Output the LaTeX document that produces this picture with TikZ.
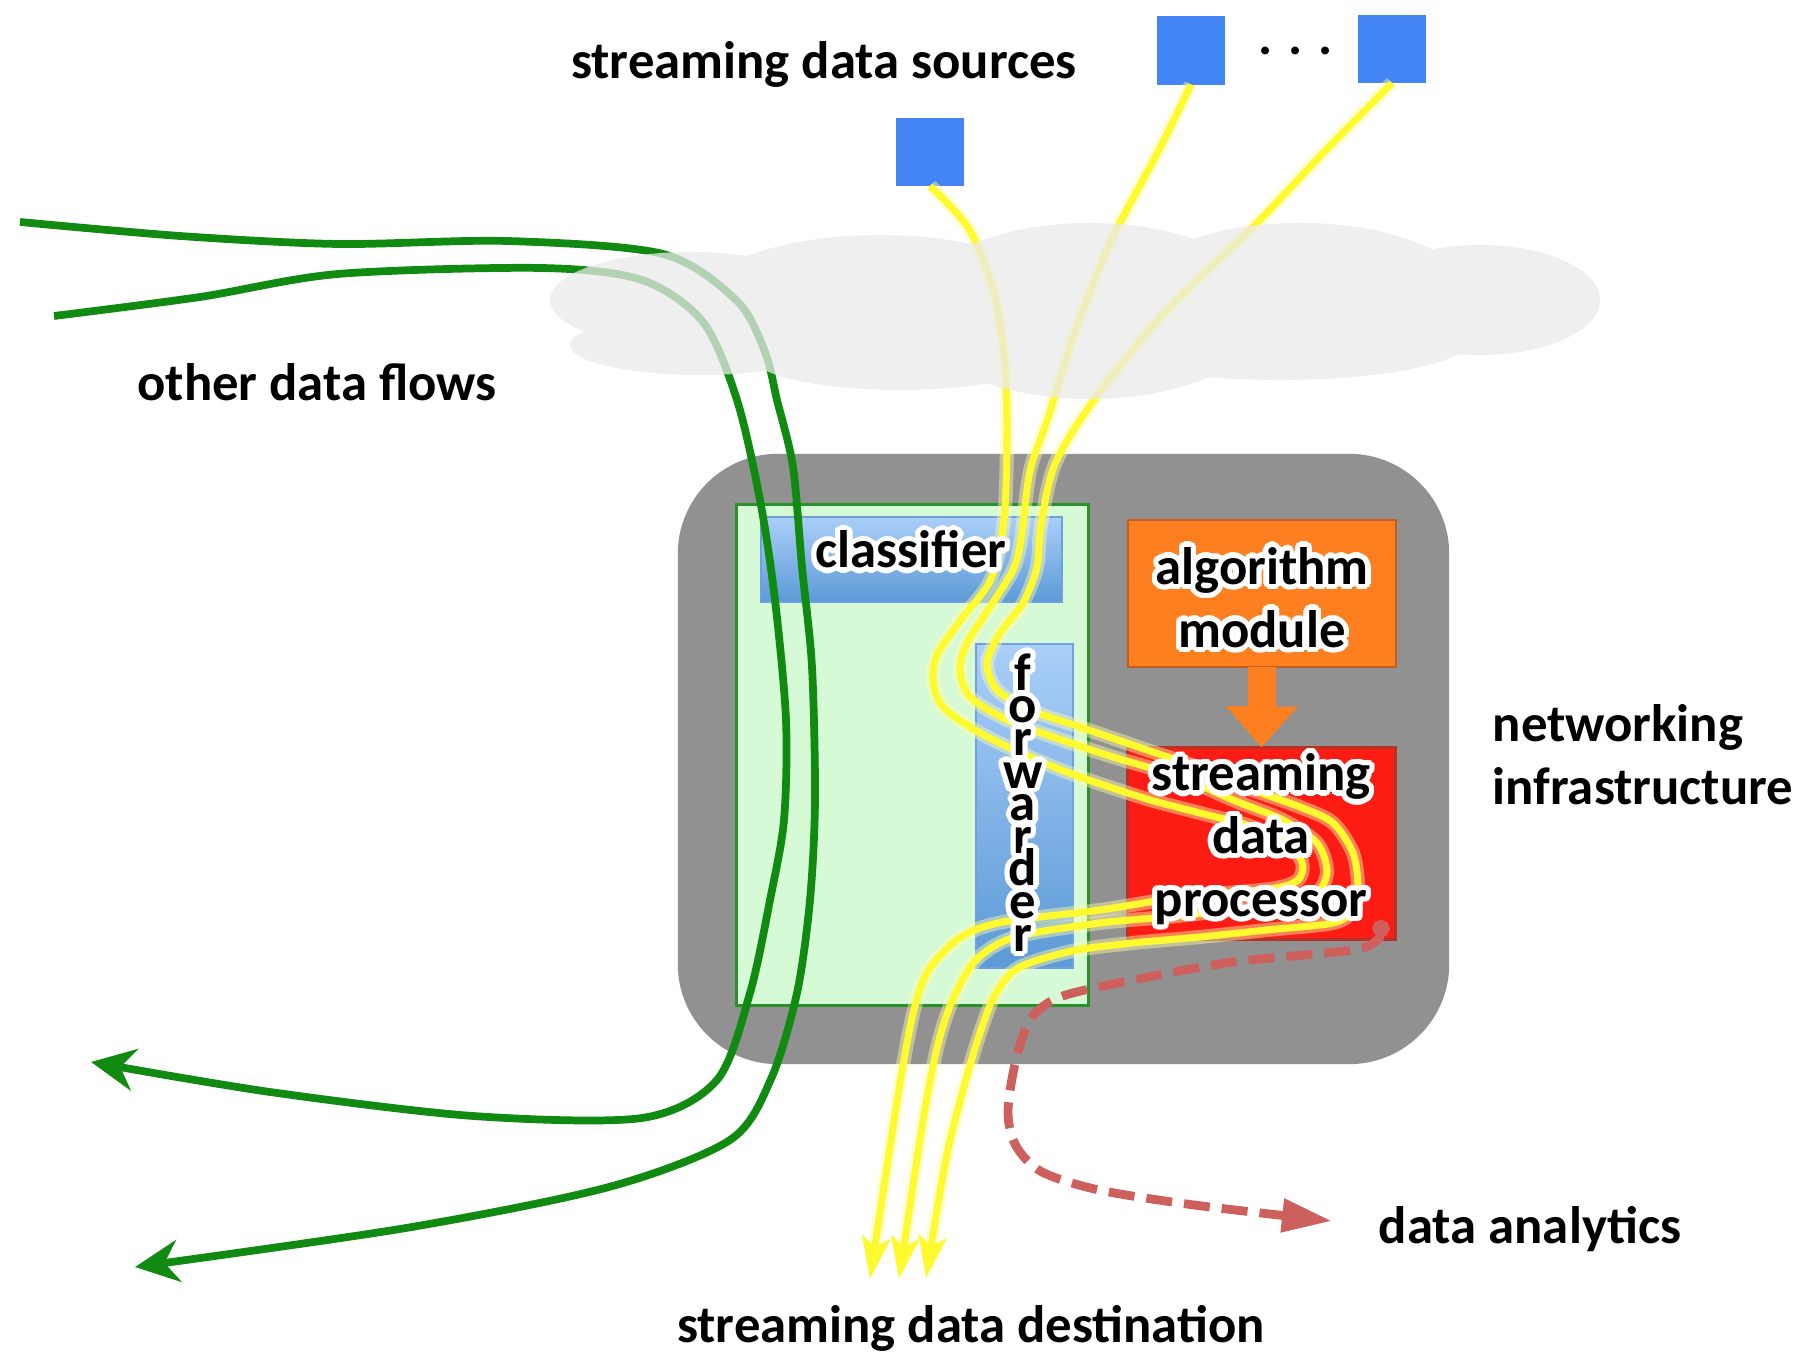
\documentclass[tikz,border=0pt]{standalone}
\usepackage{fontspec}
\setmainfont{Carlito}
\usepackage{contour}
\contourlength{1.5pt}
\usetikzlibrary{arrows.meta}
\definecolor{infragray}{RGB}{145,145,145}
\definecolor{routerfill}{RGB}{214,250,214}
\definecolor{routerline}{RGB}{40,145,40}
\definecolor{barlight}{RGB}{170,207,250}
\definecolor{bardark}{RGB}{92,154,214}
\definecolor{barline}{RGB}{110,160,225}
\definecolor{srcblue}{RGB}{68,133,245}
\definecolor{algoorange}{RGB}{253,127,31}
\definecolor{algoline}{RGB}{195,95,30}
\definecolor{sdpred}{RGB}{253,28,20}
\definecolor{sdpline}{RGB}{180,50,40}
\definecolor{flowgreen}{RGB}{16,138,16}
\definecolor{streamyellow}{RGB}{255,250,45}
\definecolor{analyticsred}{RGB}{205,95,92}
\definecolor{cloudgray}{RGB}{234,234,234}
\newcommand{\glow}[1]{\contour{white}{#1}}

\begin{document}
\begin{tikzpicture}[x=0.01cm, y=-0.01cm,
  lbl/.style={font=\fontsize{15}{17.9}\selectfont\bfseries, inner sep=0pt},
  box/.style={inner sep=0pt, outer sep=0pt},
  bar/.style={box, draw=barline, line width=0.6pt, top color=barlight, bottom color=bardark},
  srcbox/.style={box, fill=srcblue, minimum size=0.68cm},
  modbox/.style={box, line width=0.8pt, minimum width=2.68cm},
  flow/.style={flowgreen, line width=2.2pt, -{Stealth[length=4.4mm, width=4.2mm]}},
  stream/.style={streamyellow, line width=2pt,
                 preaction={draw=streamyellow!40, line width=4pt, opacity=0.45},
                 -{Stealth[length=4.2mm, width=2.8mm, inset=1mm]}},
  analytic/.style={analyticsred, line width=2.5pt, dash pattern=on 0.26cm off 0.12cm,
                   {Circle[length=1.7mm]}-{Triangle[length=5mm, width=3.2mm]}}
]
\useasboundingbox (0,0) rectangle (1811,1368);

% Networking infrastructure
\node[box, fill=infragray, rounded corners=1cm, minimum width=7.71cm, minimum height=6.1cm] (infra) at (1063.5,759) {};
\node[box, fill=routerfill, draw=routerline, line width=0.8pt, minimum width=3.51cm, minimum height=5cm] (router) at (912.5,755) {};
\node[bar, minimum width=3.01cm, minimum height=0.85cm] (classifier) at (911.5,559.5) {};
\node[bar, minimum width=0.97cm, minimum height=3.24cm] (forwarder) at (1024.5,806) {};
\node[modbox, fill=algoorange, draw=algoline, minimum height=1.47cm] (algo) at (1262,593.5) {};
\node[modbox, fill=sdpred, draw=sdpline, minimum height=1.92cm] (sdp) at (1261.5,843.5) {};
\draw[algoorange, line width=0.28cm, -{Triangle[length=0.41cm, width=0.69cm]}] (algo.south) -- (sdp.north);

% Sources
\node[srcbox] (src1) at (930,152) {};
\node[srcbox] (src2) at (1191,50.5) {};
\node[srcbox] (src3) at (1392,49) {};
\node[lbl, anchor=base] (dots) at (1296,55) {. . .};

% Free ends
\coordinate (flowinA) at (20,222);
\coordinate (flowoutA) at (135,1267);
\coordinate (flowinB) at (54,316);
\coordinate (flowoutB) at (91,1062);
\coordinate (dest1) at (870,1279);
\coordinate (dest2) at (899,1279);
\coordinate (dest3) at (926,1278);
\coordinate (tapin) at (1382,920);
\coordinate (analyticsend) at (1332,1221);

% Other data flows
\draw[flow] plot[smooth] coordinates {(flowinA) (180,236) (338,244) (507,241) (663,254) (737,301) (765,352) (777,400) (793,467) (802,567) (812,667) (815,800) (810,900) (797,993) (771,1079) (730,1140) (609,1187) (406,1228) (flowoutA)};
\draw[flow] plot[smooth] coordinates {(flowinB) (200,297) (338,274) (541,268) (642,280) (703,322) (737,400) (760,500) (775,600) (786,720) (784,820) (770,900) (750,993) (717,1080) (642,1118) (473,1116) (270,1092) (flowoutB)};

% Streams
\draw[stream] plot[smooth] coordinates {(src1.south) (969,229) (994,293) (1005,364) (1007,436) (1004,520) (991,579) (963,617) (938,653) (933,680) (943,707) (980,733) (1030,757) (1080,777) (1147,799) (1200,813) (1250,826) (1285,842) (1302,862) (1298,880) (1270,889) (1183,897) (1100,910) (1003,922) (961,937) (930,968) (915,1006) (900,1083) (dest1)};
\draw[stream] plot[smooth] coordinates {(src2.south) (1159,150) (1112,239) (1076,329) (1048,418) (1030,471) (1021,540) (1013,570) (990,607) (967,643) (960,670) (970,697) (1007,720) (1053,737) (1113,757) (1180,777) (1233,800) (1283,820) (1317,843) (1327,870) (1320,890) (1300,903) (1233,910) (1167,917) (1100,923) (1015,937) (976,960) (953,999) (938,1044) (923,1121) (dest2)};
\draw[stream] plot[smooth] coordinates {(src3.south) (1326,150) (1255,225) (1166,311) (1094,400) (1055,464) (1041,525) (1037,567) (1023,603) (1000,633) (987,663) (997,690) (1030,710) (1080,727) (1147,750) (1200,768) (1233,783) (1300,807) (1333,823) (1353,853) (1358,887) (1353,910) (1333,923) (1267,930) (1200,937) (1133,943) (1072,951) (1018,968) (995,995) (980,1033) (965,1083) (946,1159) (dest3)};

% Analytics tap
\draw[analytic] plot[smooth] coordinates {(tapin) (1375,942) (1345,951) (1233,962) (1133,980) (1060,997) (1030,1020) (1015,1064) (1008,1113) (1016,1146) (1042,1172) (1099,1190) (1194,1205) (analyticsend)};

% Cloud
\fill[cloudgray, fill opacity=0.75] (690,300) ellipse [x radius=1.4cm, y radius=0.48cm]
  (700,345) ellipse [x radius=1.3cm, y radius=0.3cm]
  (880,300) ellipse [x radius=1.8cm, y radius=0.65cm]
  (900,355) ellipse [x radius=1.5cm, y radius=0.35cm]
  (1090,311) ellipse [x radius=1.8cm, y radius=0.88cm]
  (1280,340) ellipse [x radius=1.9cm, y radius=0.4cm]
  (1300,295) ellipse [x radius=1.7cm, y radius=0.72cm]
  (1480,300) ellipse [x radius=1.2cm, y radius=0.55cm];

% Labels
\node[lbl, anchor=base] (classifierlbl) at (911,568) {\glow{classifier}};
\node[lbl, align=center, font=\fontsize{15}{9.28}\selectfont\bfseries,
      execute at begin node={\lineskiplimit=-20pt\relax}] (forwarderlbl) at (1023,805)
  {\glow{f}\\\glow{o}\\\glow{r}\\\glow{w}\\\glow{a}\\\glow{r}\\\glow{d}\\\glow{e}\\\glow{r}};
\node[lbl, align=center] (algolbl) at (1262,600) {\glow{algorithm}\\\glow{module}};
\node[lbl, align=center] (sdplbl) at (1261,842) {\glow{streaming}\\\glow{data}\\\glow{processor}};
\node[lbl, anchor=base] (sourceslbl) at (824,79) {streaming data sources};
\node[lbl, anchor=base] (flowslbl) at (317,401) {other data flows};
\node[lbl, anchor=base west] (netlbl) at (1492,742) {networking};
\node[lbl, anchor=base west] (infralbl) at (1492,805) {infrastructure};
\node[lbl, anchor=base] (analyticslbl) at (1530,1244) {data analytics};
\node[lbl, anchor=base] (destlbl) at (971,1343) {streaming data destination};
\end{tikzpicture}
\end{document}
